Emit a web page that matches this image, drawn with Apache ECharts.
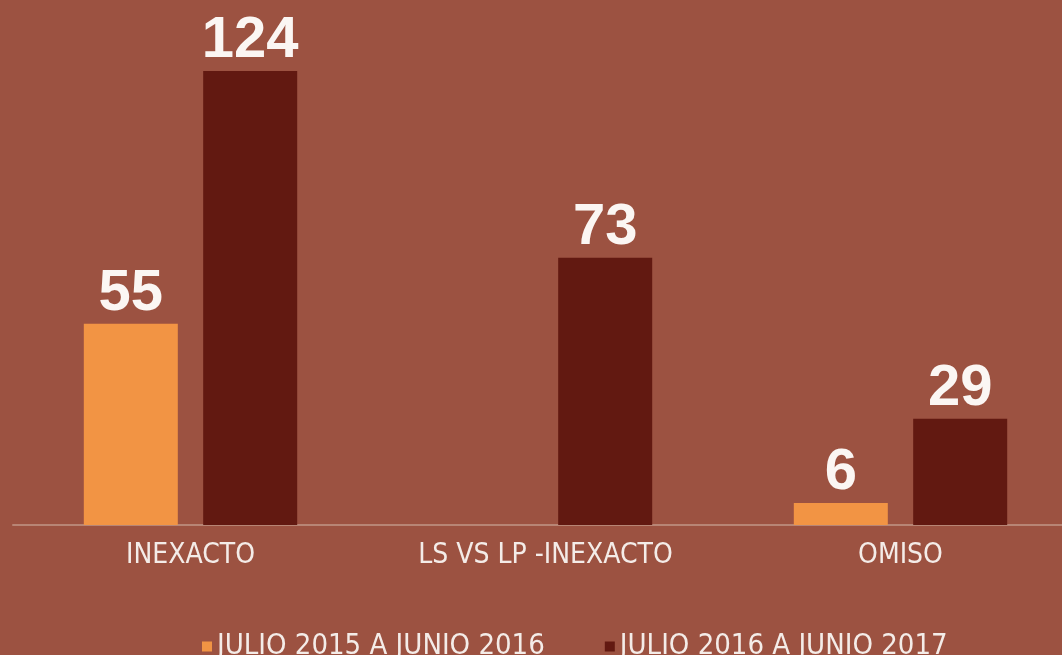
<!DOCTYPE html>
<html>
<head>
<meta charset="utf-8">
<script src="https://cdn.jsdelivr.net/npm/echarts@6/dist/echarts.min.js"></script>
<style>
html,body{margin:0;padding:0;background:#9C5241;overflow:hidden;width:1062px;height:655px;}
#c{width:1080px;height:655px;}
</style>
</head>
<body>
<div id="c"></div>
<script>
var categories = ['INEXACTO', 'LS VS LP -INEXACTO', 'OMISO'];
var seriesNames = ['JULIO 2015 A JUNIO 2016', 'JULIO 2016 A JUNIO 2017'];
var values2015 = [55, null, 6];
var values2016 = [124, 73, 29];

var condensed = '"DejaVu Sans Condensed", "Liberation Sans Narrow", sans-serif';
var chart = echarts.init(document.getElementById('c'));
var labelStyle = {
  show: true,
  position: 'top',
  distance: 1,
  color: '#FBF6F3',
  fontFamily: 'Liberation Sans, Arial, sans-serif',
  fontWeight: 'bold',
  fontSize: 58
};
chart.setOption({
  backgroundColor: '#9C5241',
  animation: false,
  grid: { left: 13, right: 2, top: 71, bottom: 130, containLabel: false },
  legend: {
    top: 627,
    left: 197,
    itemWidth: 10,
    itemHeight: 10,
    itemGap: 60,
    icon: 'rect',
    textStyle: { color: '#F4ECE8', fontSize: 29, fontFamily: condensed },
    data: seriesNames
  },
  xAxis: {
    type: 'category',
    data: categories,
    axisLine: { lineStyle: { color: '#B88575', width: 2 } },
    axisTick: { show: false },
    axisLabel: { interval: 0, color: '#F4ECE8', fontSize: 28, fontFamily: condensed, margin: 17 }
  },
  yAxis: {
    type: 'value',
    min: 0,
    max: 124,
    show: false,
    splitLine: { show: false }
  },
  series: [
    {
      name: seriesNames[0],
      type: 'bar',
      data: values2015,
      barWidth: 94,
      barGap: '27%',
      itemStyle: { color: '#F29444' },
      label: labelStyle
    },
    {
      name: seriesNames[1],
      type: 'bar',
      data: values2016,
      barWidth: 94,
      itemStyle: { color: '#621911' },
      label: labelStyle
    }
  ]
});
</script>
</body>
</html>
